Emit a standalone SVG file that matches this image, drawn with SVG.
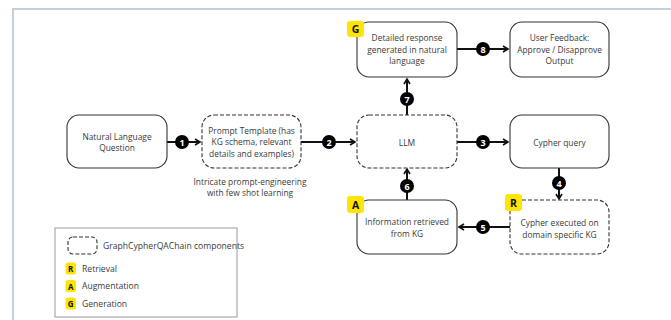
<svg xmlns="http://www.w3.org/2000/svg" width="671" height="320" viewBox="0 0 671 320">
<defs>
<style>
.node{fill:#fff;stroke:#333;stroke-width:1.1}
.dash{stroke-dasharray:4 2}
.t{font-family:"Open Sans","Liberation Sans",sans-serif;font-size:8.4px;fill:#3a3a3a;text-anchor:middle;dominant-baseline:central}
.lt{font-family:"Open Sans","Liberation Sans",sans-serif;font-size:8.6px;fill:#3a3a3a;dominant-baseline:central}
.conn{stroke:#111;stroke-width:2;fill:none}
.num{fill:#000}
.nt{font-family:"Open Sans","Liberation Sans",sans-serif;font-size:9px;font-weight:bold;fill:#fff;text-anchor:middle;dominant-baseline:central}
.badge{fill:#ffe500}
.bt{font-family:"Open Sans","Liberation Sans",sans-serif;font-weight:bold;fill:#111;text-anchor:middle;dominant-baseline:central}
</style>
<marker id="ah" markerWidth="8" markerHeight="8" refX="6" refY="4" orient="auto" markerUnits="userSpaceOnUse">
<path d="M1,1 L6,4 L1,7" fill="none" stroke="#111" stroke-width="1.6"/>
</marker>
</defs>
<rect width="671" height="320" fill="#fff"/>
<path d="M13,330 L13,9 L680,9" fill="none" stroke="#c3d1da" stroke-width="2"/>

<g id="connectors">
<line class="conn" x1="167" y1="142" x2="200" y2="142" marker-end="url(#ah)"/>
<line class="conn" x1="301" y1="142" x2="355" y2="142" marker-end="url(#ah)"/>
<line class="conn" x1="457" y1="142" x2="508" y2="142" marker-end="url(#ah)"/>
<line class="conn" x1="559" y1="168" x2="559" y2="199" marker-end="url(#ah)"/>
<line class="conn" x1="510" y1="227" x2="459" y2="227" marker-end="url(#ah)"/>
<line class="conn" x1="407" y1="200" x2="407" y2="169" marker-end="url(#ah)"/>
<line class="conn" x1="407" y1="115" x2="407" y2="79" marker-end="url(#ah)"/>
<line class="conn" x1="457" y1="49" x2="508" y2="49" marker-end="url(#ah)"/>
<circle class="num" cx="182" cy="142" r="7"/><text class="nt" x="182" y="142">1</text>
<circle class="num" cx="329" cy="142" r="7"/><text class="nt" x="329" y="142">2</text>
<circle class="num" cx="483" cy="142" r="7"/><text class="nt" x="483" y="142">3</text>
<circle class="num" cx="559" cy="183" r="7"/><text class="nt" x="559" y="183">4</text>
<circle class="num" cx="483" cy="227" r="7"/><text class="nt" x="483" y="227">5</text>
<circle class="num" cx="407" cy="186" r="7"/><text class="nt" x="407" y="186">6</text>
<circle class="num" cx="407" cy="99" r="7"/><text class="nt" x="407" y="99">7</text>
<circle class="num" cx="483" cy="49" r="7"/><text class="nt" x="483" y="49">8</text>
</g>

<g id="nlq">
<rect class="node" x="67" y="115" width="100" height="53" rx="12"/>
<text class="t" x="117" y="136">Natural Language</text>
<text class="t" x="117" y="147.5">Question</text>
</g>
<g id="prompt">
<rect class="node dash" x="202" y="115" width="99" height="53" rx="12"/>
<text class="t" x="251.5" y="130">Prompt Template (has</text>
<text class="t" x="251.5" y="141.5">KG schema, relevant</text>
<text class="t" x="251.5" y="153">details and examples)</text>
</g>
<g id="caption">
<text class="t" x="250" y="181">Intricate prompt-engineering</text>
<text class="t" x="250" y="192.5">with few shot learning</text>
</g>
<g id="llm">
<rect class="node dash" x="357" y="115" width="100" height="53" rx="12"/>
<text class="t" x="407" y="142">LLM</text>
</g>
<g id="cypher-query">
<rect class="node" x="510" y="115" width="99" height="53" rx="12"/>
<text class="t" x="559.5" y="142">Cypher query</text>
</g>
<g id="detailed">
<rect class="node" x="357" y="22" width="100" height="55" rx="12"/>
<text class="t" x="407" y="37.5">Detailed response</text>
<text class="t" x="407" y="49">generated in natural</text>
<text class="t" x="407" y="60.5">language</text>
<rect class="badge" x="347" y="21" width="17" height="16" rx="3"/>
<text class="bt" x="355.5" y="29" font-size="10.5">G</text>
</g>
<g id="feedback">
<rect class="node" x="510" y="22" width="99" height="55" rx="12"/>
<text class="t" x="559.5" y="37.5">User Feedback:</text>
<text class="t" x="559.5" y="49">Approve / Disapprove</text>
<text class="t" x="559.5" y="60.5">Output</text>
</g>
<g id="info">
<rect class="node" x="357" y="200" width="100" height="54" rx="12"/>
<text class="t" x="407" y="221.5">Information retrieved</text>
<text class="t" x="407" y="233">from KG</text>
<rect class="badge" x="347" y="196" width="17" height="17" rx="3"/>
<text class="bt" x="355.5" y="204.5" font-size="10.5">A</text>
</g>
<g id="cypher-exec">
<rect class="node dash" x="510" y="200" width="99" height="54" rx="12"/>
<text class="t" x="559.5" y="222.5">Cypher executed on</text>
<text class="t" x="559.5" y="234">domain specific KG</text>
<rect class="badge" x="505" y="194" width="17" height="17" rx="3"/>
<text class="bt" x="513.5" y="202.5" font-size="10.5">R</text>
</g>
<g id="legend">
<rect x="55" y="228" width="182" height="89" fill="#fff" stroke="#999" stroke-width="1"/>
<rect class="node dash" x="68" y="237" width="29" height="17" rx="5"/>
<text class="lt" x="103" y="246" font-size="7.1">GraphCypherQAChain components</text>
<rect class="badge" x="65.5" y="262.5" width="10.5" height="12" rx="2.5"/>
<text class="bt" x="70.7" y="268.5" font-size="8">R</text>
<text class="lt" x="82" y="268.5">Retrieval</text>
<rect class="badge" x="65.5" y="280" width="10.5" height="12" rx="2.5"/>
<text class="bt" x="70.7" y="286" font-size="8">A</text>
<text class="lt" x="82" y="286">Augmentation</text>
<rect class="badge" x="65.5" y="297.5" width="10.5" height="12" rx="2.5"/>
<text class="bt" x="70.7" y="303.5" font-size="8">G</text>
<text class="lt" x="82" y="303.5">Generation</text>
</g>
</svg>
